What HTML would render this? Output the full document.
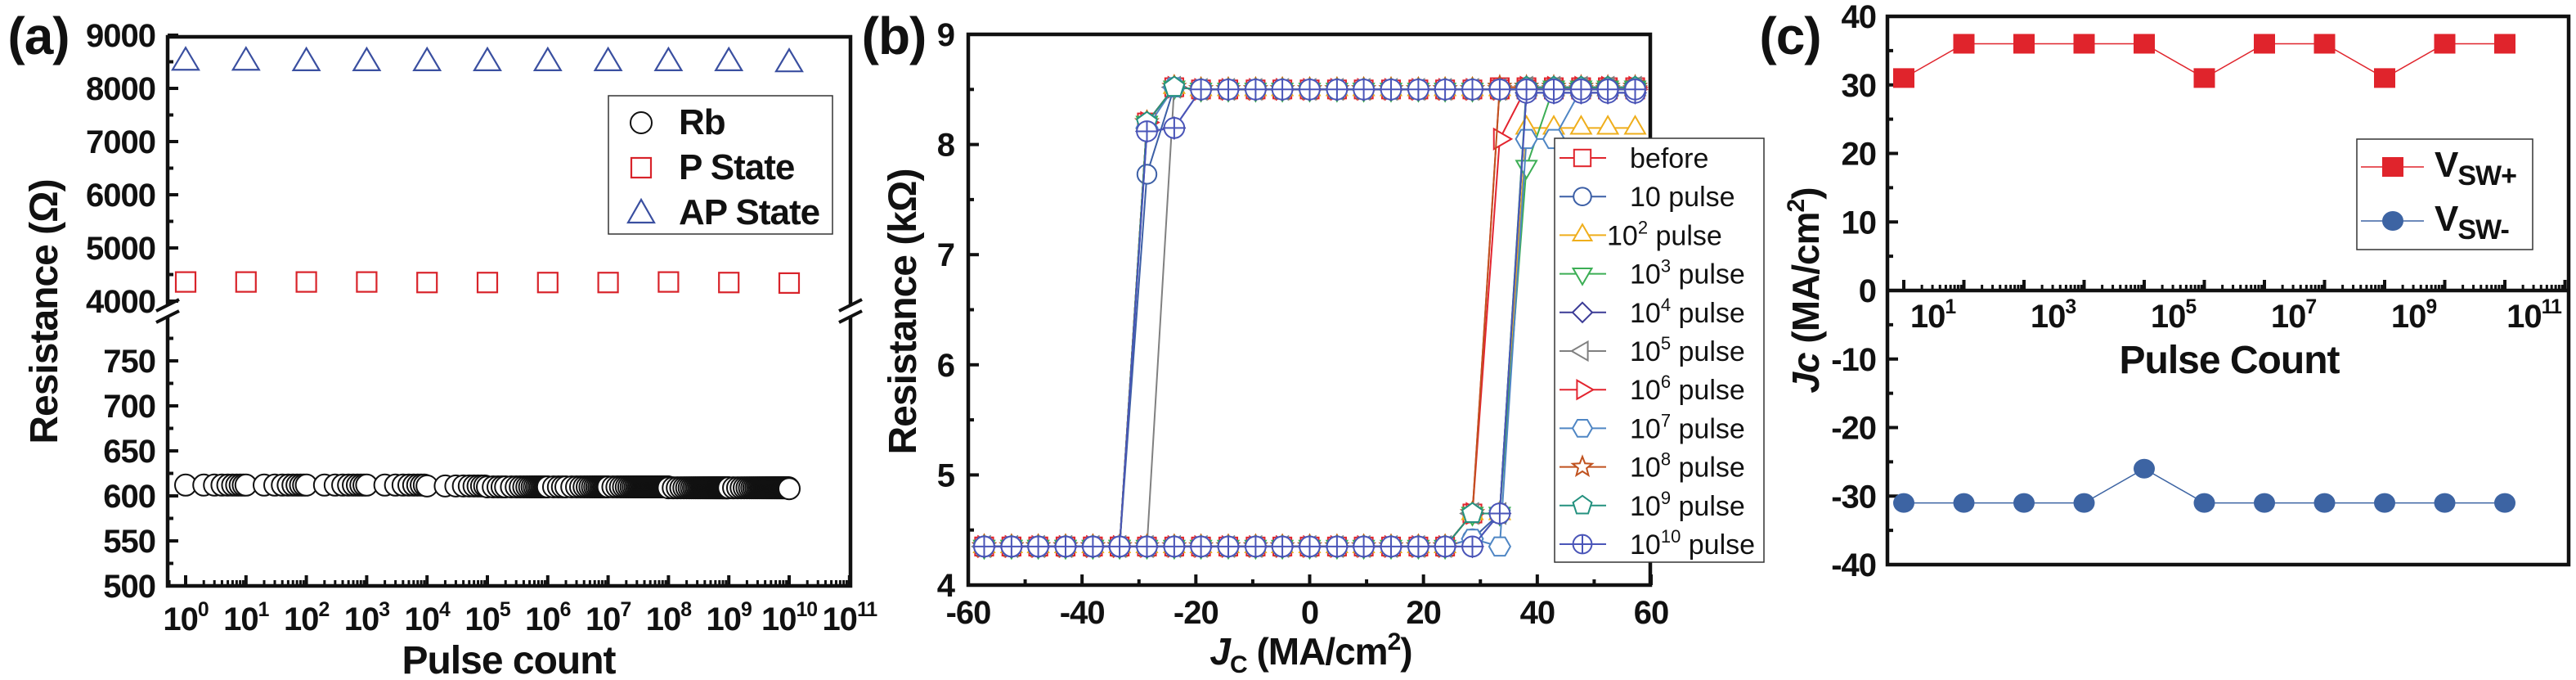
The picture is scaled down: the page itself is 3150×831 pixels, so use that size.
<!DOCTYPE html>
<html><head><meta charset="utf-8"><style>
html,body{margin:0;padding:0;background:#fff;}
svg{display:block;font-family:"Liberation Sans",Arial,sans-serif;}
.t{font-weight:bold;fill:#111;letter-spacing:-1px;}
</style></head>
<body>
<svg id="fig" xmlns="http://www.w3.org/2000/svg" width="3150" height="831" viewBox="0 0 3150 831">
<rect x="0" y="0" width="3150" height="831" fill="#fff"/>
</svg>
<script>
// ---------- Panel (a) data ----------
const aDecades = [0,1,2,3,4,5,6,7,8,9,10];
const aTriValues = [8550,8550,8540,8540,8540,8540,8540,8540,8540,8540,8520];
const aSqValues = [4360,4360,4360,4360,4350,4350,4350,4350,4360,4350,4340];
const rbMult = [1,2,3,4,5,6,7,8,9];
const rbDenseMult = [1,1.25,1.5,1.75,2,2.5,3,3.5,4,4.5,5,5.5,6,6.5,7,7.5,8,8.5,9,9.5];
const rbDensestMult = [1,1.2,1.4,1.6,1.8,2,2.2,2.4,2.6,2.8,3,3.2,3.4,3.6,3.8,4,4.2,4.4,4.6,4.8,5,5.2,5.4,5.6,5.8,6,6.2,6.4,6.6,6.8,7,7.2,7.4,7.6,7.8,8,8.2,8.4,8.6,8.8,9,9.2,9.4,9.6,9.8];
const rbDecadeValues = [612,612,612,612,611,610,610,610,609,609,608];
const aUpperTicks = [4000,5000,6000,7000,8000,9000];
const aLowerTicks = [500,550,600,650,700,750];
const aXTickLabels = ['0','1','2','3','4','5','6','7','8','9','10','11'];
// ---------- Panel (b) data ----------
const bX = [-57.2,-52.4,-47.7,-42.9,-38.1,-33.4,-28.6,-23.8,-19.1,-14.3,-9.5,-4.8,0,4.8,9.5,14.3,19.1,23.8,28.6,33.4,38.1,42.9,47.7,52.4,57.2];
const bLoBase = [4.35,4.35,4.35,4.35,4.35,4.35,4.35,4.35,4.35,4.35,4.35,4.35,4.35,4.35,4.35,4.35,4.35,4.35];
const bHiBase = [8.5,8.5,8.5,8.5,8.5,8.5,8.5,8.5,8.5,8.5,8.5,8.5,8.5,8.5,8.5,8.5,8.5];
const bNames = ['before','10','10^2','10^3','10^4','10^5','10^6','10^7','10^8','10^9','10^10'];
const bLoTail = [
 [4.65,8.52,8.52,8.52,8.52,8.52,8.52],
 [4.42,4.65,8.47,8.47,8.47,8.47,8.47],
 [4.65,4.65,8.15,8.15,8.15,8.15,8.15],
 [4.65,4.65,7.8,8.52,8.52,8.52,8.52],
 [4.35,4.65,8.47,8.47,8.47,8.47,8.47],
 [4.65,4.65,8.52,8.52,8.52,8.52,8.52],
 [4.65,8.05,8.52,8.52,8.52,8.52,8.52],
 [4.42,4.35,8.05,8.05,8.5,8.5,8.5],
 [4.65,8.52,8.52,8.52,8.52,8.52,8.52],
 [4.65,4.65,8.52,8.52,8.52,8.52,8.52],
 [4.35,4.65,8.47,8.47,8.47,8.47,8.47]
];
const bHiHead = [
 [4.35,4.35,4.35,4.35,4.35,4.35,8.2,8.52],
 [4.35,4.35,4.35,4.35,4.35,4.35,7.73,8.52],
 [4.35,4.35,4.35,4.35,4.35,4.35,8.2,8.52],
 [4.35,4.35,4.35,4.35,4.35,4.35,8.2,8.52],
 [4.35,4.35,4.35,4.35,4.35,4.35,8.12,8.15],
 [4.35,4.35,4.35,4.35,4.35,4.35,4.35,8.52],
 [4.35,4.35,4.35,4.35,4.35,4.35,8.2,8.52],
 [4.35,4.35,4.35,4.35,4.35,4.35,8.15,8.52],
 [4.35,4.35,4.35,4.35,4.35,4.35,8.2,8.52],
 [4.35,4.35,4.35,4.35,4.35,4.35,8.2,8.52],
 [4.35,4.35,4.35,4.35,4.35,4.35,8.12,8.15]
];
const bXTicks = [-60,-40,-20,0,20,40,60];
const bYTicks = [4,5,6,7,8,9];
// ---------- Panel (c) data ----------
const cDecades = [0,1,2,3,4,5,6,7,8,9,10];
const cPlus = [31,36,36,36,36,31,36,36,31,36,36];
const cMinus = [-31,-31,-31,-31,-26,-31,-31,-31,-31,-31,-31];
const cYTicks = [40,30,20,10,0,-10,-20,-30,-40];
const cXLabels = ['1','3','5','7','9','11'];

const NS = 'http://www.w3.org/2000/svg';
const svg = document.getElementById('fig');
function mk(tag, attrs, parent) {
  const e = document.createElementNS(NS, tag);
  for (const k in attrs) e.setAttribute(k, attrs[k]);
  (parent || svg).appendChild(e);
  return e;
}
function txt(x, y, s, size, anchor, parent) {
  const e = mk('text', {x: x, y: y, 'font-size': size, 'text-anchor': anchor || 'middle', class: 't'}, parent);
  e.textContent = s;
  return e;
}
function supLabel(x, y, base, sup, size, parent) {
  const e = mk('text', {x: x, y: y, 'font-size': size, 'text-anchor': 'middle', class: 't'}, parent);
  const a = mk('tspan', {}, e); a.textContent = base;
  const b = mk('tspan', {dy: -size * 0.42, 'font-size': size * 0.62}, e); b.textContent = sup;
  return e;
}

// ================= PANEL (a) =================
const gA = mk('g', {});


const xA = l => 227 + 73.8 * l;
const yAup = v => 368 - (v - 4000) * 0.065;
const yAlo = v => 716 - (v - 500) * 1.1;
const lblA = txt(47, 66, '(a)', 64, 'middle', gA);


const frameA = mk('path', {d: 'M205,45 H1040 V716 H205 Z', fill: 'none', stroke: '#111', 'stroke-width': 4.5}, gA);


for (let v = 4000; v <= 9000; v += 500) {
  const len = v % 1000 === 0 ? 13 : 7;
  const tk = mk('line', {x1: 205, x2: 205 + len, y1: yAup(v), y2: yAup(v), stroke: '#111', 'stroke-width': 4}, gA);
  
  
}
for (const v of aUpperTicks) {
  const t = txt(190, yAup(v) + 14, String(v), 40, 'end', gA);
  
  
}
for (let v = 500; v <= 775; v += 25) {
  const len = v % 50 === 0 ? 13 : 7;
  const tk = mk('line', {x1: 205, x2: 205 + len, y1: yAlo(v), y2: yAlo(v), stroke: '#111', 'stroke-width': 4}, gA);
  
  
}
for (const v of aLowerTicks) {
  const t = txt(190, yAlo(v) + 14, String(v), 40, 'end', gA);
  
  
}
for (let k = 0; k <= 11; k++) {
  const tk = mk('line', {x1: xA(k), x2: xA(k), y1: 716, y2: 703, stroke: '#111', 'stroke-width': 4}, gA);
  
  
  if (k < 11) for (let m = 2; m <= 9; m++) {
    const xm = xA(k + Math.log10(m));
    if (xm > 1038) continue;
    const mt = mk('line', {x1: xm, x2: xm, y1: 716, y2: 709, stroke: '#111', 'stroke-width': 3}, gA);
    
    
  }
}
const xmin = mk('line', {x1: xA(-0.27), x2: xA(-0.27), y1: 716, y2: 709, stroke: '#111', 'stroke-width': 3}, gA);


aXTickLabels.forEach((s, k) => {
  const t = supLabel(xA(k), 770, '10', s, 40, gA);
  
  
});
for (const bx of [205, 1040]) {
  const gap = mk('rect', {x: bx - 6, y: 372, width: 12, height: 15, fill: '#fff'}, gA);
  
  
  for (const dy of [0, 14]) {
    const bl = mk('line', {x1: bx - 14, y1: 380 + dy, x2: bx + 14, y2: 366 + dy, stroke: '#111', 'stroke-width': 4}, gA);
    
    
  }
}
const ytA = txt(0, 0, 'Resistance (Ω)', 48, 'middle', gA);
ytA.setAttribute('transform', 'translate(70,381) rotate(-90)');


const xtA = txt(622, 823, 'Pulse count', 48, 'middle', gA);


aDecades.forEach((d, i) => {
  const mults = d === 10 ? [1] : (d >= 7 ? rbDensestMult : (d >= 5 ? rbDenseMult : rbMult));
  for (const m of mults) {
    const c = mk('circle', {cx: xA(d + Math.log10(m)), cy: yAlo(rbDecadeValues[i]), r: 13, fill: '#fff', stroke: '#111', 'stroke-width': 2}, gA);
    
    
  }
});
aDecades.forEach((d, i) => {
  const x = xA(d);
  const sy = yAup(aSqValues[i]);
  const sq = mk('rect', {x: x - 12, y: sy - 12, width: 24, height: 24, fill: 'none', stroke: '#d8232a', 'stroke-width': 2.2}, gA);
  
  
  const ty = yAup(aTriValues[i]);
  const tr = mk('polygon', {points: `${x},${ty - 14} ${x - 16},${ty + 13} ${x + 16},${ty + 13}`, fill: 'none', stroke: '#3a4fa0', 'stroke-width': 2.2}, gA);
  
  
});
const legA = mk('g', {}, gA);


const lbA = mk('rect', {x: 744, y: 117, width: 274, height: 169, fill: '#fff', stroke: '#333', 'stroke-width': 1.5}, legA);


const la1 = mk('circle', {cx: 784, cy: 150, r: 13, fill: '#fff', stroke: '#111', 'stroke-width': 2}, legA);


const la2 = mk('rect', {x: 772, y: 193, width: 24, height: 24, fill: 'none', stroke: '#d8232a', 'stroke-width': 2.2}, legA);


const la3 = mk('polygon', {points: '784,244 768,272 800,272', fill: 'none', stroke: '#3a4fa0', 'stroke-width': 2.2}, legA);


[['Rb', 164], ['P State', 219], ['AP State', 274]].forEach(([s, y]) => {
  const t = txt(830, y, s, 44, 'start', legA);
  
  
});

// ================= PANEL (b) =================
const gB = mk('g', {});


const xB = v => 1184 + (v + 60) * (835 / 120);
const yB = v => 715 - (v - 4) * 134.6;
const lblB = txt(1093, 66, '(b)', 64, 'middle', gB);


for (let v = 4; v <= 9; v += 0.5) {
  const len = Number.isInteger(v) ? 13 : 7;
  const tk = mk('line', {x1: 1184, x2: 1184 + len, y1: yB(v), y2: yB(v), stroke: '#111', 'stroke-width': 4}, gB);
  
  
}
for (const v of bYTicks) {
  const t = txt(1167, yB(v) + 14, String(v), 40, 'end', gB);
  
  
}
for (let v = -60; v <= 60; v += 10) {
  const len = v % 20 === 0 ? 13 : 7;
  const tk = mk('line', {x1: xB(v), x2: xB(v), y1: 715, y2: 715 - len, stroke: '#111', 'stroke-width': 4}, gB);
  
  
}
for (const v of bXTicks) {
  const t = txt(xB(v), 762, String(v), 40, 'middle', gB);
  
  
}
const ytB = txt(0, 0, 'Resistance (kΩ)', 48, 'middle', gB);
ytB.setAttribute('transform', 'translate(1120,381) rotate(-90)');


const xtB = mk('text', {x: 1603, y: 812, 'font-size': 46, class: 't', 'text-anchor': 'middle'}, gB);


const xtB1 = mk('tspan', {'font-style': 'italic'}, xtB); xtB1.textContent = 'J';
const xtB2 = mk('tspan', {dy: 10, 'font-size': 30}, xtB); xtB2.textContent = 'C';
const xtB3 = mk('tspan', {dy: -10}, xtB); xtB3.textContent = ' (MA/cm';
const xtB4 = mk('tspan', {dy: -18, 'font-size': 30}, xtB); xtB4.textContent = '2';
const xtB5 = mk('tspan', {dy: 18}, xtB); xtB5.textContent = ')';

const bColors = ['#e0242c','#3c5fa6','#efae1c','#3cae55','#3b3b96','#808080','#e3242f','#4f86c4','#c0521f','#24917f','#4a55b8'];
const bShapes = ['square','circle','tri-up','tri-down','diamond','tri-left','tri-right','hexagon','star','pentagon','crossed-circle'];
function marker(shape, x, y, col, parent, r) {
  r = r || 13;
  const st = {fill: '#fff', stroke: col, 'stroke-width': 2};
  let e;
  const poly = pts => mk('polygon', Object.assign({points: pts.map(p => p.join(',')).join(' ')}, st), parent);
  const reg = (n, rr, rot) => { const p = []; for (let i = 0; i < n; i++) { const a = rot + i * 2 * Math.PI / n; p.push([x + rr * Math.cos(a), y + rr * Math.sin(a)]); } return p; };
  if (shape === 'square') e = mk('rect', Object.assign({x: x - r * 0.85, y: y - r * 0.85, width: r * 1.7, height: r * 1.7}, st), parent);
  else if (shape === 'circle') e = mk('circle', Object.assign({cx: x, cy: y, r: r * 0.9}, st), parent);
  else if (shape === 'tri-up') e = poly(reg(3, r * 1.1, -Math.PI / 2));
  else if (shape === 'tri-down') e = poly(reg(3, r * 1.1, Math.PI / 2));
  else if (shape === 'tri-left') e = poly(reg(3, r * 1.1, Math.PI));
  else if (shape === 'tri-right') e = poly(reg(3, r * 1.1, 0));
  else if (shape === 'diamond') e = poly(reg(4, r, -Math.PI / 2));
  else if (shape === 'hexagon') e = poly(reg(6, r, 0));
  else if (shape === 'pentagon') e = poly(reg(5, r, -Math.PI / 2));
  else if (shape === 'star') { const p = []; for (let i = 0; i < 10; i++) { const a = -Math.PI / 2 + i * Math.PI / 5; const rr = i % 2 ? r * 0.45 : r * 1.05; p.push([x + rr * Math.cos(a), y + rr * Math.sin(a)]); } e = poly(p); }
  else if (shape === 'crossed-circle') {
    e = mk('g', {}, parent);
    mk('circle', Object.assign({cx: x, cy: y, r: r * 0.95}, st), e);
    mk('path', {d: `M${x - r * 0.95},${y} H${x + r * 0.95} M${x},${y - r * 0.95} V${y + r * 0.95}`, stroke: col, 'stroke-width': 2}, e);
  }
  return e;
}
for (let s = 0; s < bNames.length; s++) {
  const lo = bLoBase.concat(bLoTail[s]);
  const hi = bHiHead[s].concat(bHiBase);
  const sg = mk('g', {}, gB);
  
  
  for (const arr of [lo, hi]) {
    const pl = mk('polyline', {points: arr.map((v, i) => xB(bX[i]) + ',' + yB(v)).join(' '), fill: 'none', stroke: bColors[s], 'stroke-width': 2}, sg);
    
    
  }
  for (const arr of [lo, hi]) arr.forEach((v, i) => {
    const m = marker(bShapes[s], xB(bX[i]), yB(v), bColors[s], sg);
    
    
  });
}
const frameB = mk('path', {d: 'M1184,42 H2018 V715 H1184 Z', fill: 'none', stroke: '#111', 'stroke-width': 4.5}, gB);


const legB = mk('g', {}, gB);


const lbB = mk('rect', {x: 1901, y: 169, width: 256, height: 518, fill: '#fff', stroke: '#333', 'stroke-width': 1.5}, legB);


for (let s = 0; s < bNames.length; s++) {
  const y = 193 + s * 47.2;
  const ln = mk('line', {x1: 1907, x2: 1964, y1: y, y2: y, stroke: bColors[s], 'stroke-width': 2}, legB);
  
  
  const mm = marker(bShapes[s], 1935, y, bColors[s], legB, 12);
  
  
  const t = mk('text', {x: s === 2 ? 1965 : 1993, y: y + 12, 'font-size': 34, fill: '#111'}, legB);
  
  
  const nm = bNames[s];
  if (nm === 'before') t.textContent = 'before';
  else if (nm === '10') t.textContent = '10 pulse';
  else {
    const a = mk('tspan', {}, t); a.textContent = '10';
    const b = mk('tspan', {dy: -14, 'font-size': 22}, t); b.textContent = nm.split('^')[1];
    const c = mk('tspan', {dy: 14}, t); c.textContent = ' pulse';
  }
}

// ================= PANEL (c) =================
const gC = mk('g', {});


const xC = l => 2328 + 73.5 * l;
const yC = v => 355 - v * 8.375;
const lblC = txt(2189, 66, '(c)', 64, 'middle', gC);


const frameC = mk('path', {d: 'M2308,20 H3141 V690 H2308 Z', fill: 'none', stroke: '#111', 'stroke-width': 4.5}, gC);


const zeroC = mk('line', {x1: 2308, x2: 3141, y1: yC(0), y2: yC(0), stroke: '#111', 'stroke-width': 4.5}, gC);


for (let v = -40; v <= 40; v += 5) {
  const len = v % 10 === 0 ? 13 : 7;
  const tk = mk('line', {x1: 2308, x2: 2308 + len, y1: yC(v), y2: yC(v), stroke: '#111', 'stroke-width': 4}, gC);
  
  
}
for (const v of cYTicks) {
  const t = txt(2294, yC(v) + 14, String(v), 40, 'end', gC);
  
  
}
for (let k = 0; k <= 11; k++) {
  const tk = mk('line', {x1: xC(k), x2: xC(k), y1: yC(0), y2: yC(0) - 13, stroke: '#111', 'stroke-width': 4}, gC);
  
  
  for (let m = 2; m <= 9; m++) {
    const xm = xC(k + Math.log10(m));
    if (xm > 3139) continue;
    const mt = mk('line', {x1: xm, x2: xm, y1: yC(0), y2: yC(0) - 7, stroke: '#111', 'stroke-width': 3}, gC);
    
    
  }
}
cXLabels.forEach(s => {
  const t = supLabel(xC(Number(s)) - 38, 400, '10', s, 40, gC);
  
  
});
const xtC = txt(2726, 456, 'Pulse Count', 48, 'middle', gC);


const ytC = mk('text', {x: 0, y: 0, 'font-size': 46, class: 't', 'text-anchor': 'middle', transform: 'translate(2224,355) rotate(-90)'}, gC);


const yc1 = mk('tspan', {'font-style': 'italic'}, ytC); yc1.textContent = 'Jc';
const yc2 = mk('tspan', {}, ytC); yc2.textContent = ' (MA/cm';
const yc3 = mk('tspan', {dy: -18, 'font-size': 30}, ytC); yc3.textContent = '2';
const yc4 = mk('tspan', {dy: 18}, ytC); yc4.textContent = ')';
const lnPlus = mk('polyline', {points: cDecades.map((d, i) => xC(d) + ',' + yC(cPlus[i])).join(' '), fill: 'none', stroke: '#e0242c', 'stroke-width': 1.5}, gC);


const lnMinus = mk('polyline', {points: cDecades.map((d, i) => xC(d) + ',' + yC(cMinus[i])).join(' '), fill: 'none', stroke: '#3d64a3', 'stroke-width': 1.5}, gC);


cDecades.forEach((d, i) => {
  const sq = mk('rect', {x: xC(d) - 13, y: yC(cPlus[i]) - 12, width: 26, height: 24, fill: '#e0242c'}, gC);
  
  
  const ci = mk('ellipse', {cx: xC(d), cy: yC(cMinus[i]), rx: 13, ry: 12, fill: '#3d64a3'}, gC);
  
  
});
const legC = mk('g', {}, gC);


const lbC = mk('rect', {x: 2882, y: 170, width: 215, height: 135, fill: '#fff', stroke: '#333', 'stroke-width': 1.5}, legC);


const lc1 = mk('line', {x1: 2887, x2: 2964, y1: 204, y2: 204, stroke: '#e0242c', 'stroke-width': 1.5}, legC);


const lc1m = mk('rect', {x: 2913, y: 192, width: 26, height: 24, fill: '#e0242c'}, legC);


const lc2 = mk('line', {x1: 2887, x2: 2964, y1: 270, y2: 270, stroke: '#3d64a3', 'stroke-width': 1.5}, legC);


const lc2m = mk('ellipse', {cx: 2926, cy: 270, rx: 13, ry: 12, fill: '#3d64a3'}, legC);


[['SW+', 216], ['SW-', 282]].forEach(([s, y]) => {
  const t = mk('text', {x: 2977, y: y, 'font-size': 44, class: 't'}, legC);
  
  
  const a = mk('tspan', {}, t); a.textContent = 'V';
  const b = mk('tspan', {dy: 10, 'font-size': 34}, t); b.textContent = s;
});
</script>
</body></html>
